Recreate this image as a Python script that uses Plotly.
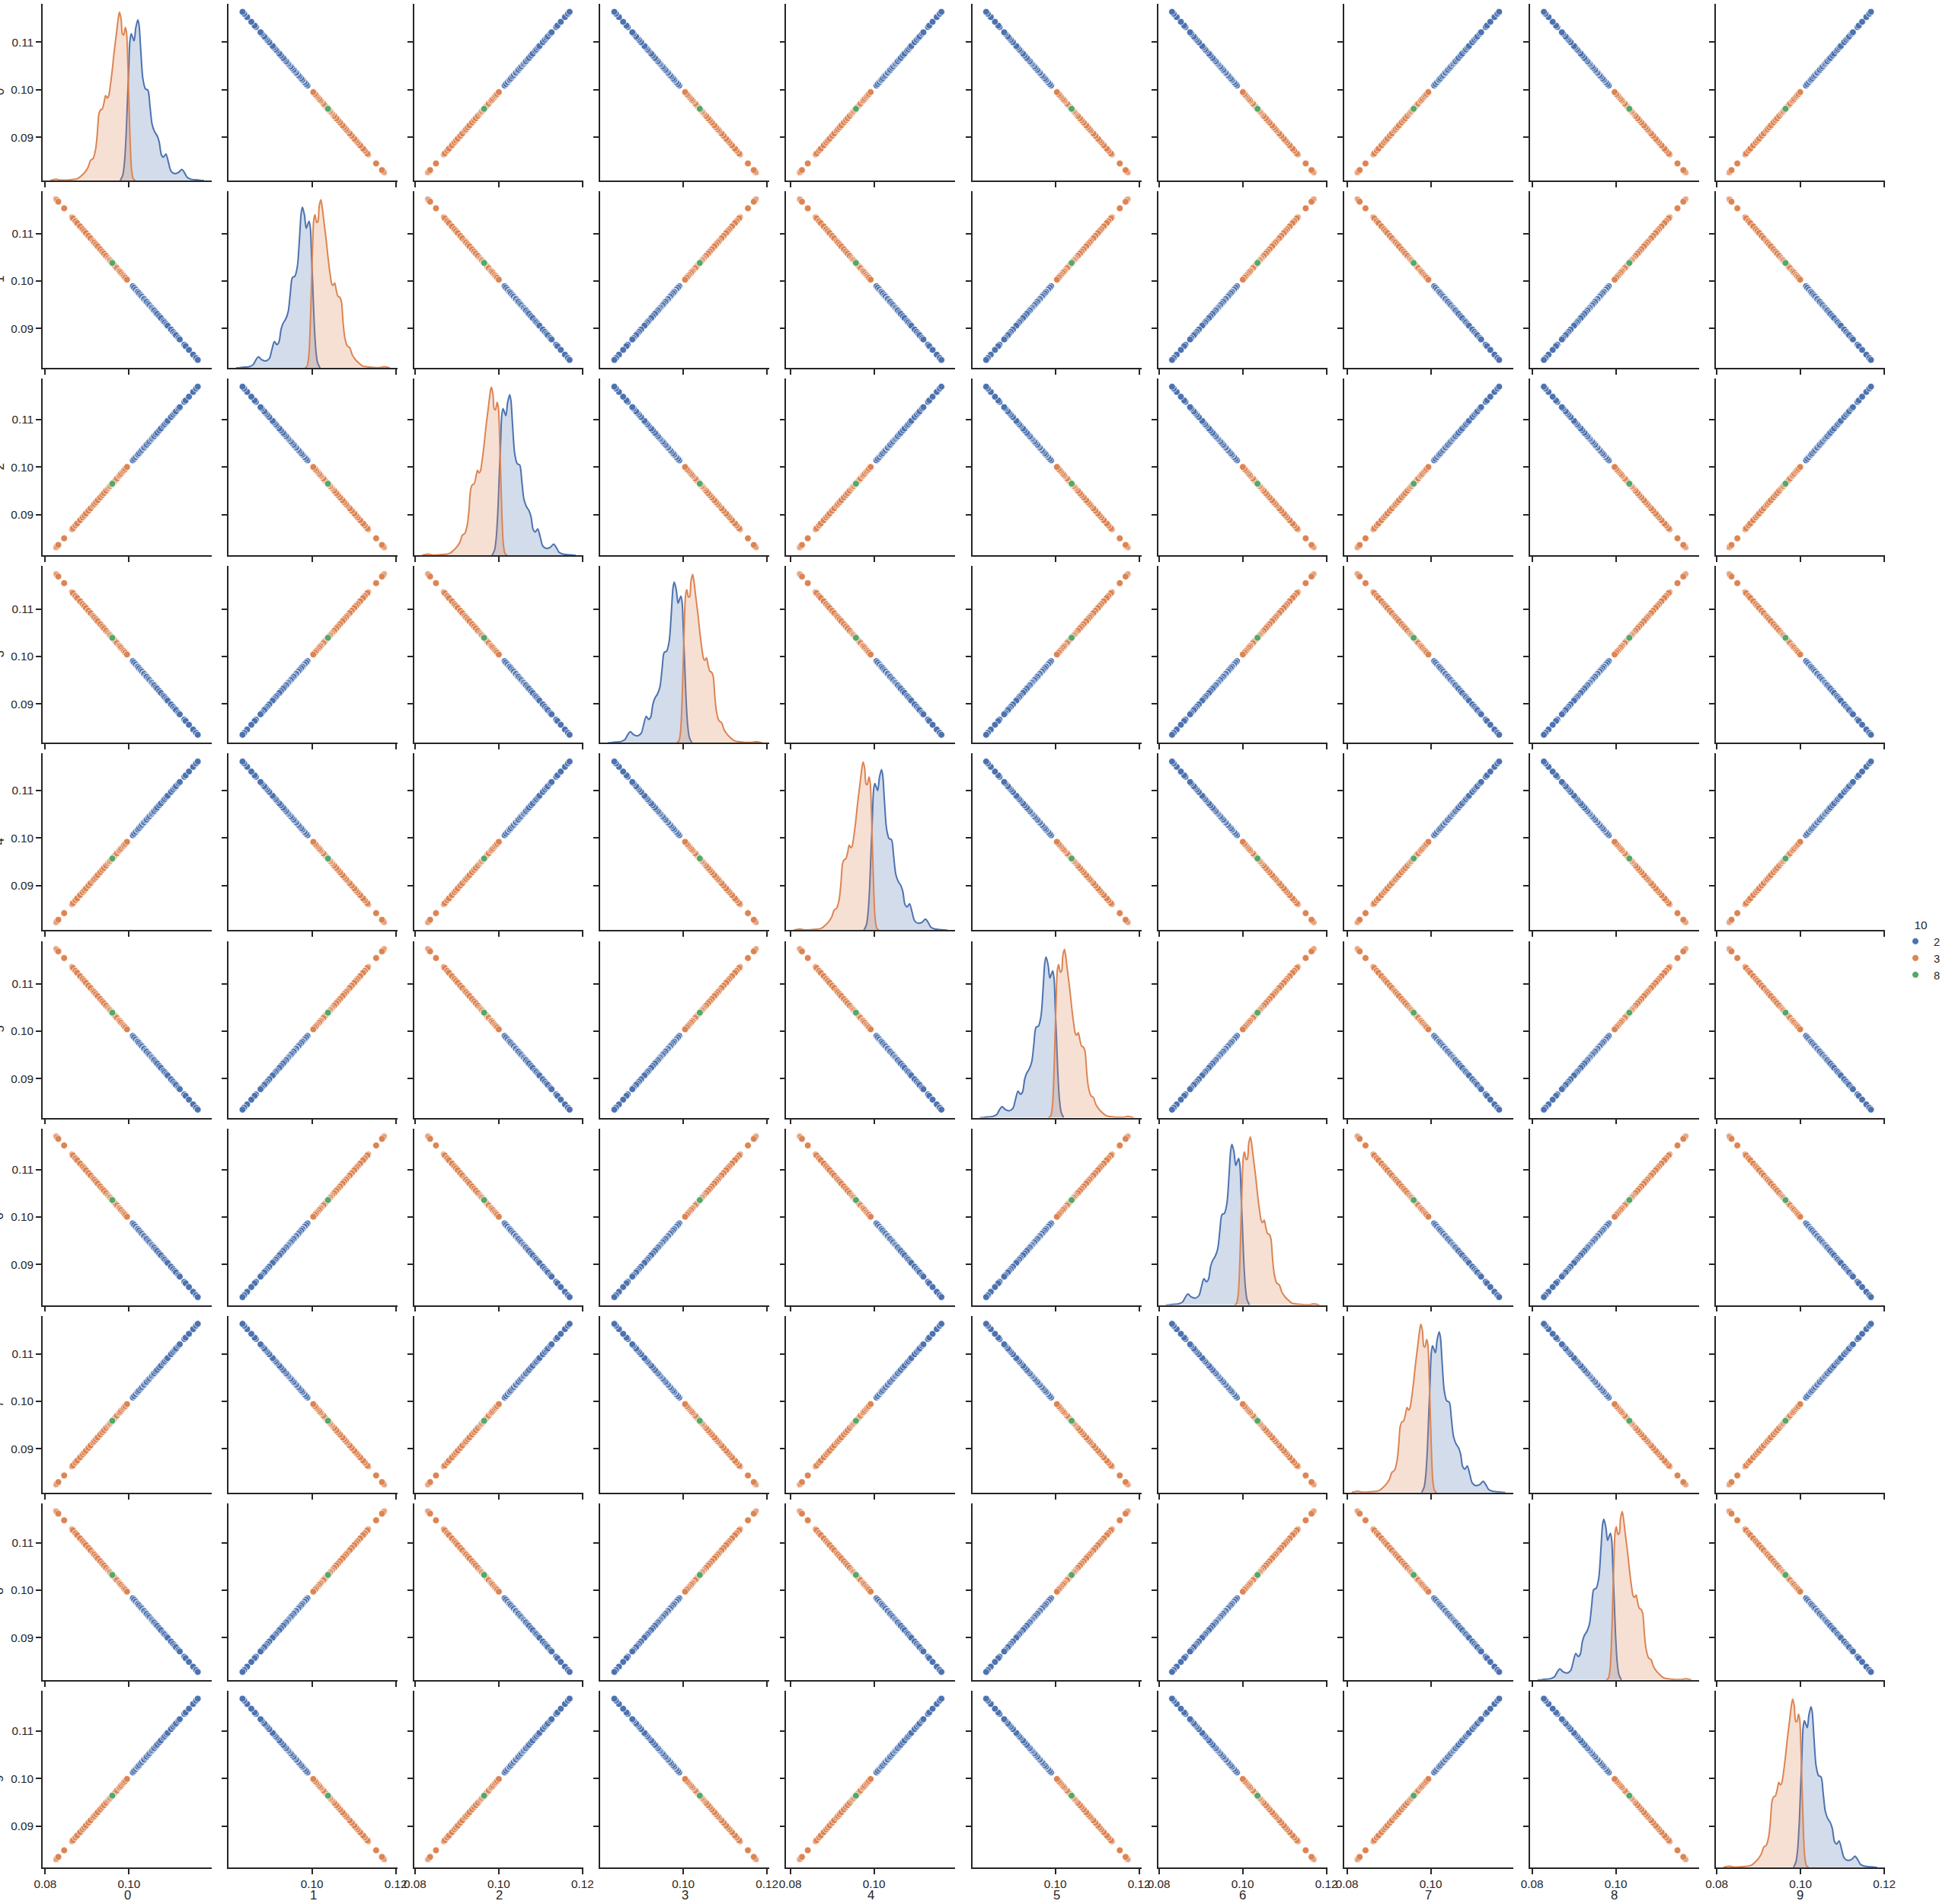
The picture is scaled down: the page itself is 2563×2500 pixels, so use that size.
import plotly.graph_objects as go

variables = [str(i) for i in range(10)]
hue_names = ["2", "3", "8"]
hue_colors = ["#4c72b0", "#dd8452", "#55a868"]
hue_fills = ["rgba(76,114,176,0.25)", "rgba(221,132,82,0.25)"]

# column "0" values of the plotted rows, per hue class
vals_2 = [0.1009, 0.1012, 0.1016, 0.1020, 0.1021, 0.1024, 0.1028, 0.1031, 0.1035, 0.1036,
          0.1040, 0.1042, 0.1046, 0.1049, 0.1053, 0.1055, 0.1058, 0.1060, 0.1064, 0.1067,
          0.1072, 0.1076, 0.1082, 0.1085, 0.1089, 0.1092, 0.1100, 0.1105, 0.1109, 0.1112,
          0.1118, 0.1121, 0.1132, 0.1135, 0.1143, 0.1153, 0.1160, 0.1164]
vals_3 = [0.0826, 0.0828, 0.0831, 0.0845, 0.0864, 0.0866, 0.0872, 0.0876, 0.0883, 0.0889,
          0.0893, 0.0897, 0.0903, 0.0908, 0.0914, 0.0917, 0.0921, 0.0925, 0.0931, 0.0936,
          0.0940, 0.0945, 0.0950, 0.0953, 0.0955, 0.0958, 0.0964, 0.0968, 0.0971, 0.0976,
          0.0978, 0.0981, 0.0985, 0.0988, 0.0991, 0.0995]
vals_8 = [0.0960]

# the other columns are column 0 (sign 1) or its mirror (sign -1), slightly shifted
col_sign = [1, -1, 1, -1, 1, -1, -1, 1, -1, 1]
col_shift = [0.0, 0.1998, 0.0005, 0.19994, -0.0003, 0.1999, 0.19955, -0.0001, 0.1992, 0.0004]

# density of column 0 per class (relative to the tallest peak)
kde_x_2 = [0.0979, 0.0985, 0.0989, 0.0993, 0.0996, 0.0999, 0.1002, 0.1005, 0.1008, 0.1012,
           0.1016, 0.1021, 0.1024, 0.1028, 0.1033, 0.1039, 0.1045, 0.1050, 0.1055, 0.1061,
           0.1067, 0.1072, 0.1077, 0.1082, 0.1088, 0.1094, 0.1100, 0.1109, 0.1118, 0.1126,
           0.1132, 0.1139, 0.1148, 0.1158, 0.1170, 0.1179]
kde_h_2 = [0.0, 0.033, 0.108, 0.274, 0.47, 0.65, 0.83, 0.872, 0.855, 0.83,
           0.907, 0.955, 0.92, 0.77, 0.605, 0.545, 0.537, 0.44, 0.334, 0.29,
           0.266, 0.229, 0.154, 0.139, 0.157, 0.108, 0.056, 0.041, 0.048, 0.066,
           0.048, 0.018, 0.0075, 0.0045, 0.0015, 0.0]
kde_x_3 = [0.0812, 0.0818, 0.0826, 0.0834, 0.0845, 0.0861, 0.0872, 0.0879, 0.0885, 0.0894,
           0.0902, 0.0908, 0.0914, 0.0920, 0.0924, 0.0928, 0.0932, 0.0936, 0.0940, 0.0944,
           0.0948, 0.0951, 0.0955, 0.0960, 0.0964, 0.0970, 0.0974, 0.0977, 0.0981, 0.0984,
           0.0987, 0.0991, 0.0994, 0.0997, 0.1000, 0.1003, 0.1006, 0.1010, 0.1015]
kde_h_3 = [0.0, 0.004, 0.0075, 0.003, 0.002, 0.005, 0.008, 0.014, 0.026, 0.048,
           0.078, 0.12, 0.131, 0.184, 0.274, 0.395, 0.42, 0.425, 0.46, 0.505,
           0.49, 0.50, 0.56, 0.66, 0.756, 0.877, 0.96, 1.0, 0.96, 0.87,
           0.865, 0.91, 0.877, 0.696, 0.44, 0.2, 0.063, 0.01, 0.0]

x_ticks = [0.08, 0.10, 0.12]
y_ticks = [0.09, 0.10, 0.11]

W, H = 2563, 2500
left0, col_step, cell_w = 56, 244.1, 222
top0, row_step, cell_h = 5, 246.1, 232
ink = "#262626"
font_family = "Liberation Sans, Arial, sans-serif"


def column(j, vals):
    return [col_shift[j] + col_sign[j] * v for v in vals]


def padded(lo, hi):
    pad = 0.05 * (hi - lo)
    return [lo - pad, hi + pad]


all_vals = vals_2 + vals_3 + vals_8
x_ranges, y_ranges = [], []
for j in range(10):
    kx = column(j, kde_x_2 + kde_x_3)
    x_ranges.append(padded(min(kx), max(kx)))
    dv = column(j, all_vals)
    y_ranges.append(padded(min(dv), max(dv)))

fig = go.Figure()


def ax_name(kind, k):
    return kind if k == 1 else f"{kind}{k}"


layout_axes = {}
for i in range(10):
    for j in range(10):
        k = i * 10 + j + 1
        xref, yref = ax_name("x", k), ax_name("y", k)
        x0 = (left0 + col_step * j) / W
        x1 = (left0 + col_step * j + cell_w) / W
        y1 = 1 - (top0 + row_step * i) / H
        y0 = 1 - (top0 + row_step * i + cell_h) / H
        common = dict(showline=True, linecolor=ink, linewidth=1.7, ticks="outside",
                      ticklen=7, tickwidth=1.7, tickcolor=ink, showgrid=False,
                      zeroline=False, tickformat=".2f", automargin=False,
                      tickfont=dict(size=15.3, color=ink, family=font_family))
        layout_axes[ax_name("xaxis", k)] = dict(
            common, domain=[x0, x1], range=x_ranges[j], tickvals=x_ticks,
            showticklabels=(i == 9), anchor=yref)
        layout_axes[ax_name("yaxis", k)] = dict(
            common, domain=[y0, y1], range=y_ranges[i], tickvals=y_ticks,
            showticklabels=(j == 0), anchor=xref)

        if i == j:
            fig.add_trace(go.Scatter(x=[], y=[], xaxis=xref, yaxis=yref,
                                     showlegend=False, hoverinfo="skip"))
            oy = f"y{100 + i + 1}"
            layout_axes[f"yaxis{100 + i + 1}"] = dict(
                overlaying=yref, anchor=xref, range=[0, 1.05], visible=False,
                showgrid=False, zeroline=False)
            for kx, kh, c, fc in [(kde_x_2, kde_h_2, hue_colors[0], hue_fills[0]),
                                  (kde_x_3, kde_h_3, hue_colors[1], hue_fills[1])]:
                fig.add_trace(go.Scatter(
                    x=column(j, kx), y=kh, xaxis=xref, yaxis=oy, mode="lines",
                    line=dict(color=c, width=2, shape="spline", smoothing=0.8),
                    fill="tozeroy", fillcolor=fc, showlegend=False, hoverinfo="skip"))
        else:
            for vals, name, c in zip([vals_2, vals_3, vals_8], hue_names, hue_colors):
                fig.add_trace(go.Scatter(
                    x=column(j, vals), y=column(i, vals), xaxis=xref, yaxis=yref,
                    mode="markers", name=name, legendgroup=name,
                    showlegend=(i == 0 and j == 1),
                    marker=dict(color=c, size=8.8, line=dict(color="white", width=0.8))))

annotations = []
for j in range(10):
    annotations.append(dict(
        text=variables[j], xref="paper", yref="paper", showarrow=False,
        x=(left0 + col_step * j + cell_w / 2) / W, y=1 - 2499 / H,
        xanchor="center", yanchor="bottom", borderpad=0,
        font=dict(size=16.7, color=ink, family=font_family)))
# the row labels sit mostly past the left edge, as in the original figure
for i in range(10):
    annotations.append(dict(
        text=variables[i], xref="paper", yref="paper", showarrow=False,
        x=-1 / W, y=1 - (top0 + row_step * i + cell_h / 2) / H, textangle=-90,
        xanchor="center", yanchor="middle", borderpad=0,
        font=dict(size=16.7, color=ink, family=font_family)))

fig.update_layout(
    width=W, height=H, margin=dict(l=0, r=0, t=0, b=0),
    paper_bgcolor="white", plot_bgcolor="white", template="none",
    font=dict(family=font_family, color=ink),
    annotations=annotations,
    legend=dict(x=2491 / W, y=1 - 1200 / H, xanchor="left", yanchor="top",
                title=dict(text="10", side="top center", font=dict(size=15.3, color=ink)),
                font=dict(size=14.6, color=ink), bgcolor="rgba(0,0,0,0)",
                itemwidth=38, tracegroupgap=0),
    **layout_axes)

fig.write_html("out.html", config={"displayModeBar": False},
               post_script="document.body.style.margin='0';document.body.style.overflow='hidden';")
